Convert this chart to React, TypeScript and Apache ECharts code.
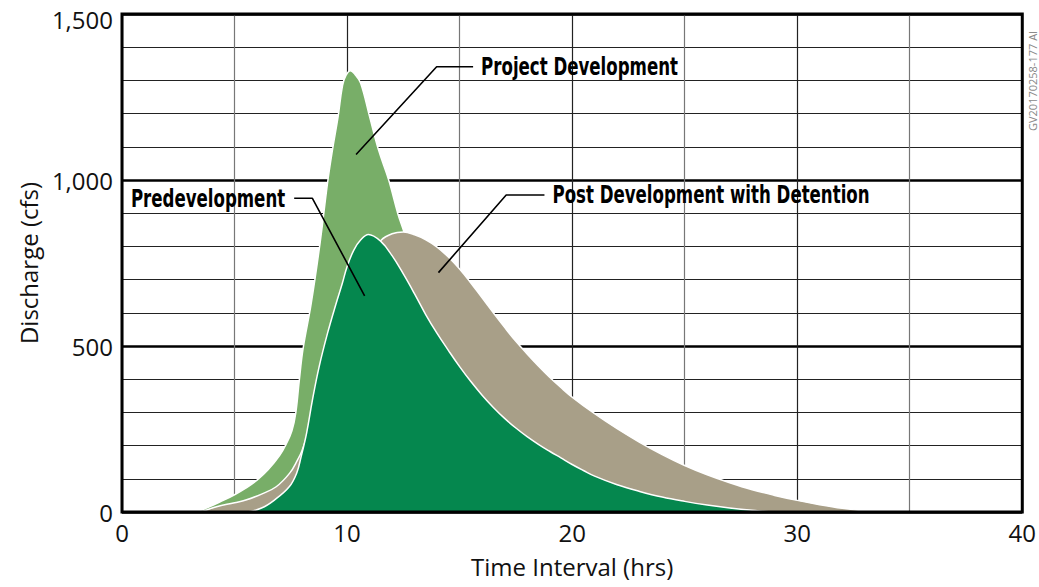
import React, { useEffect, useRef } from "react";
import * as echarts from "echarts";

// Project Development (light green)
const projectHours = [0, 3.2, 3.75, 4.5, 5.0, 5.5, 6.0, 6.5, 7.0, 7.3, 7.55, 7.72, 7.88, 8.05, 8.4, 8.8, 9.15, 9.35, 9.6, 9.8, 9.95, 10.15, 10.35, 10.6, 11.0, 11.4, 11.85, 12.25, 12.5, 13, 13.5, 14, 15, 16, 17, 18, 20, 22, 25, 28, 30, 40];
const projectCfs = [0, 0, 12, 35, 52, 72, 96, 128, 170, 205, 245, 298, 398, 494, 625, 810, 1000, 1090, 1190, 1285, 1315, 1329, 1318, 1292, 1191, 1090, 1000, 900, 849, 740, 640, 560, 440, 350, 280, 220, 140, 90, 40, 10, 0, 0];

// Post Development with Detention (tan)
const detentionHours = [0, 3.3, 4.2, 5.0, 5.5, 6.2, 6.85, 7.45, 7.8, 8.0, 8.5, 9.0, 9.5, 10.0, 10.5, 11.0, 11.5, 12.0, 12.5, 13.0, 13.5, 14.0, 14.5, 15.0, 15.5, 16.0, 16.5, 17.0, 17.5, 18.0, 18.5, 19.0, 19.5, 20.0, 21.0, 22.0, 23.0, 24.0, 25.0, 26.0, 27.0, 28.0, 29.0, 30.0, 31.0, 32.0, 33.0, 33.5, 40];
const detentionCfs = [0, 0, 16, 28, 36, 54, 76, 117, 157, 185, 290, 400, 510, 610, 700, 770, 818, 838, 843, 835, 820, 798, 768, 732, 690, 645, 600, 556, 514, 476, 440, 406, 375, 346, 296, 251, 210, 173, 140, 112, 88, 67, 50, 35, 22, 11, 3, 0, 0];

// Predevelopment (dark green)
const predevHours = [0, 5.5, 6.2, 6.77, 7.43, 7.76, 7.96, 8.2, 8.46, 8.76, 9.13, 9.5, 9.79, 10.0, 10.3, 10.6, 10.95, 11.5, 12.0, 12.5, 13.0, 13.5, 14.0, 14.5, 15.0, 15.5, 16.0, 16.5, 17.0, 17.5, 18.0, 18.5, 19.0, 19.5, 20.0, 20.5, 21.0, 22.0, 23.0, 24.0, 25.0, 26.0, 27.0, 28.0, 29.0, 40];
const predevCfs = [0, 0, 12, 36, 76, 117, 167, 237, 337, 438, 538, 625, 689, 739, 789, 819, 836, 815, 772, 717, 657, 594, 538, 487, 438, 393, 352, 315, 282, 253, 227, 204, 183, 163, 143, 125, 108, 82, 62, 45, 32, 21, 12, 5, 0, 0];

// Annotation leaders [hrs, cfs]
const projectLeader = [[15.6, 1341], [13.98, 1341], [10.4, 1077]];
const predevLeader = [[7.65, 945], [8.46, 945], [10.78, 651]];
const detentionLeader = [[18.77, 955], [17.07, 955], [14.06, 721]];

const annotationNames = ["Project Development", "Predevelopment", "Post Development with Detention"];
const annotationAnchors = [[15.6, 1341], [7.65, 945], [18.77, 955]];
const annotationSides = ["right", "left", "right"];

const xTickValues = [0, 10, 20, 30, 40];
const yTickValues = [0, 500, 1000, 1500];

const zip = (xs: number[], ys: number[]) => xs.map((x, i) => [x, ys[i]]);

const LABEL_FONT = "'Open Sans', 'Noto Sans', sans-serif";
const NOTE_FONT = "'DejaVu Sans Condensed', 'DejaVu Sans', sans-serif";

export default function App() {
  const ref = useRef<HTMLDivElement>(null);
  useEffect(() => {
    const chart = echarts.init(ref.current!, null, { renderer: "svg" });
    const areaSeries = (name: string, data: number[][], color: string, z: number) => ({
      name,
      type: "line",
      data,
      smooth: 0.4,
      symbol: "none",
      z,
      lineStyle: { color: "#ffffff", width: 1.5 },
      areaStyle: { color, opacity: 1 },
      xAxisIndex: 0,
      yAxisIndex: 0,
      silent: true,
    });
    const leader = (data: number[][]) => ({
      type: "line",
      data,
      symbol: "none",
      lineStyle: { color: "#000", width: 1.6 },
      xAxisIndex: 0,
      yAxisIndex: 0,
      z: 6,
      silent: true,
    });
    chart.setOption({
      animation: false,
      backgroundColor: "#ffffff",
      grid: {
        left: 122,
        right: 12,
        top: 14,
        bottom: 75,
        show: true,
        borderColor: "#000",
        borderWidth: 3,
        backgroundColor: "transparent",
        z: 10,
      },
      xAxis: [
        {
          type: "value",
          min: 0,
          max: 40,
          interval: 5,
          position: "bottom",
          axisLine: { show: false },
          axisTick: { show: false },
          axisLabel: {
            show: true,
            fontSize: 24,
            color: "#111",
            fontFamily: LABEL_FONT,
            margin: 8,
            formatter: (v: number) => (xTickValues.includes(v) ? String(v) : ""),
          },
          splitLine: { show: true, lineStyle: { color: ["#222", "#777"], width: 1.2 } },
          name: "Time Interval (hrs)",
          nameLocation: "middle",
          nameGap: 42,
          nameTextStyle: { fontSize: 24, color: "#111", fontFamily: LABEL_FONT },
        },
      ],
      yAxis: [
        {
          type: "value",
          min: 0,
          max: 1500,
          interval: 100,
          position: "left",
          axisLine: { show: false },
          axisTick: { show: false },
          axisLabel: { show: false },
          splitLine: { show: true, lineStyle: { color: "#222", width: 1.2 } },
        },
        {
          type: "value",
          min: 0,
          max: 1500,
          interval: 500,
          position: "left",
          axisLine: { show: false },
          axisTick: { show: false },
          axisLabel: {
            fontSize: 24,
            color: "#111",
            fontFamily: LABEL_FONT,
            margin: 9,
            formatter: (v: number) => {
              if (!yTickValues.includes(v)) return "";
              const s = v.toLocaleString("en-US");
              return v === 1500 ? "{top|" + s + "}" : s;
            },
            rich: {
              top: { fontSize: 24, color: "#111", fontFamily: LABEL_FONT, padding: [10, 0, 0, 0] },
            },
          },
          splitLine: { show: true, lineStyle: { color: "#000", width: 2.6 } },
          name: "Discharge (cfs)",
          nameLocation: "middle",
          nameGap: 67,
          nameTextStyle: { fontSize: 24, color: "#111", fontFamily: LABEL_FONT },
        },
      ],
      series: [
        areaSeries("Project Development", zip(projectHours, projectCfs), "#78AE68", 2),
        areaSeries("Post Development with Detention", zip(detentionHours, detentionCfs), "#A89F88", 3),
        areaSeries("Predevelopment", zip(predevHours, predevCfs), "#05874E", 4),
        leader(projectLeader),
        leader(predevLeader),
        leader(detentionLeader),
      ],
    });

    const notes = annotationAnchors.map((p, i) => {
      const [px, py] = chart.convertToPixel({ xAxisIndex: 0, yAxisIndex: 0 }, p) as number[];
      const right = annotationSides[i] === "right";
      return {
        type: "text",
        x: right ? px + 8 : px - 9,
        y: py,
        scaleX: 0.77,
        z: 20,
        style: {
          text: annotationNames[i],
          fill: "#000",
          fontSize: 24,
          fontWeight: "bold",
          fontFamily: NOTE_FONT,
          textAlign: right ? "left" : "right",
          textVerticalAlign: "middle",
        },
      };
    });

    chart.setOption({
      graphic: [
        {
          type: "text",
          x: 1038,
          y: 131,
          rotation: Math.PI / 2,
          style: {
            text: "GV20170258-177 AI",
            fill: "#888",
            fontSize: 11,
            fontFamily: "'Open Sans', sans-serif",
            textAlign: "left",
            textVerticalAlign: "bottom",
          },
        },
        ...notes,
      ],
    });
    return () => chart.dispose();
  }, []);
  return <div ref={ref} style={{ position: "fixed", left: 0, top: 0, width: 1039, height: 587 }} />;
}
